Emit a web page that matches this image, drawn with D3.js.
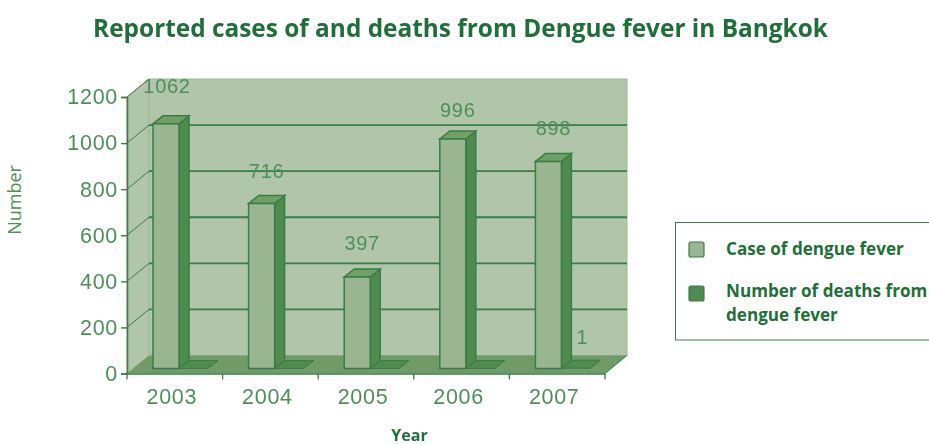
<!DOCTYPE html>
<html>
<head>
<meta charset="utf-8">
<script src="https://cdn.jsdelivr.net/npm/d3@7"></script>
<style>
  html, body { margin: 0; background: #fff; }
  svg { display: block; }
  .bold { font-family: "Open Sans", sans-serif; font-weight: 700; }
  .plain { font-family: "Liberation Sans", Arial, sans-serif; letter-spacing: 0.7px; }
</style>
</head>
<body>
<div id="chart"></div>
<script>
const years = ['2003', '2004', '2005', '2006', '2007'];
const cases = [1062, 716, 397, 996, 898];
const deaths = [0, 0, 0, 0, 1];
const yTicks = [0, 200, 400, 600, 800, 1000, 1200];
const title = 'Reported cases of and deaths from Dengue fever in Bangkok';
const legendNames = [['Case of dengue fever'], ['Number of deaths from', 'dengue fever']];

const width = 929, height = 445;
const line = '#3a7d44', wallC = '#b1c5aa', floorC = '#6f9a68';
const barFront = '#9ab592', barSide = '#4f8a50', barTop = '#6f9f68';
const textC = '#4c9058', titleC = '#1f7038';

// depth of the fake 3d box and of the bars
const depth = { x: 22, y: -18 };
const barDepth = { x: 10, y: -8 };
const barBase = 5;   // bars stand this far behind the front edge
const barW = 26;

const x = d3.scaleBand().domain(years).range([127, 605]);
const y = d3.scaleLinear().domain([0, 1200]).range([373.5, 97]);
const barX = d => x(d) + 26;

const svg = d3.select('#chart').append('svg').attr('width', width).attr('height', height);
const defs = svg.append('defs');
defs.append('filter').attr('id', 'soft').append('feGaussianBlur').attr('stdDeviation', 0.35);

const poly = pts => pts.map(p => p.join(',')).join(' ');
const chart = svg.append('g').attr('filter', 'url(#soft)');

const x0 = 127, x1 = 605, y0 = y(0), yTop = y(1200);

// walls and floor
chart.append('polygon').attr('fill', wallC).attr('stroke', '#9db896')
  .attr('points', poly([[x0 + depth.x, y0 + depth.y], [x1 + depth.x, y0 + depth.y], [x1 + depth.x, yTop + depth.y], [x0 + depth.x, yTop + depth.y]]));
chart.append('polygon').attr('fill', wallC).attr('stroke', '#9db896')
  .attr('points', poly([[x0, y0], [x0 + depth.x, y0 + depth.y], [x0 + depth.x, yTop + depth.y], [x0, yTop]]));
chart.append('polygon').attr('fill', floorC)
  .attr('points', poly([[x0, y0], [x1, y0], [x1 + depth.x, y0 + depth.y], [x0 + depth.x, y0 + depth.y]]));

// gridlines, side wall then back wall
const grid = yTicks.filter(t => t > 0);
chart.selectAll('.side').data(grid).join('line')
  .attr('x1', x0).attr('x2', x0 + depth.x)
  .attr('y1', d => y(d)).attr('y2', d => y(d) + depth.y)
  .attr('stroke', line).attr('stroke-width', 1);
chart.selectAll('.back').data(grid.filter(t => t < 1200)).join('line')
  .attr('x1', x0 + depth.x).attr('x2', x1 + depth.x)
  .attr('y1', d => y(d) + depth.y).attr('y2', d => y(d) + depth.y)
  .attr('stroke', line).attr('stroke-width', 1.8);

// bars
const base = y0 - barBase;
const h = v => y0 - y(v);

years.forEach((yr, i) => {
  const g = chart.append('g');
  const left = barX(yr), right = left + barW, v = cases[i], top = base - h(v);

  // deaths, nearly flat, sits behind and right of the cases bar
  const dv = h(deaths[i]);
  g.append('polygon').attr('fill', barSide).attr('stroke', line)
    .attr('points', poly([[right, base - dv], [right + 29, base - dv], [right + 29 + barDepth.x, base - dv + barDepth.y], [right + barDepth.x, base - dv + barDepth.y]]));

  g.append('polygon').attr('fill', barSide).attr('stroke', line).attr('stroke-width', 1.5)
    .attr('points', poly([[right, base], [right + barDepth.x, base + barDepth.y], [right + barDepth.x, top + barDepth.y], [right, top]]));
  g.append('polygon').attr('fill', barTop).attr('stroke', line).attr('stroke-width', 1.5)
    .attr('points', poly([[left, top], [right, top], [right + barDepth.x, top + barDepth.y], [left + barDepth.x, top + barDepth.y]]));
  g.append('rect').attr('x', left).attr('y', top).attr('width', barW).attr('height', h(v))
    .attr('fill', barFront).attr('stroke', line).attr('stroke-width', 1.5);
});

// axes
const yAxis = d3.axisLeft(y).tickValues(yTicks).tickSize(6).tickPadding(3).tickFormat(d3.format('d'));
const yG = chart.append('g').attr('transform', `translate(${x0},0)`).call(yAxis);
const xAxis = d3.axisBottom(x).tickSize(0).tickPadding(15);
const xG = chart.append('g').attr('transform', `translate(0,${y0})`).call(xAxis);
xG.selectAll('.tick line').remove();
xG.selectAll('.tick text').attr('dx', -3);
xG.selectAll('.edge').data(d3.range(years.length + 1)).join('line')
  .attr('x1', i => x0 + i * x.step()).attr('x2', i => x0 + i * x.step())
  .attr('y1', 0).attr('y2', 6).attr('stroke', line).attr('stroke-width', 1.3);
[yG, xG].forEach(a => {
  a.selectAll('.domain').attr('stroke', line).attr('stroke-width', 1.6);
  a.selectAll('.tick line').attr('stroke', line).attr('stroke-width', 1.4);
  a.selectAll('text').attr('class', 'plain').attr('font-size', 21.5).attr('fill', textC);
});
chart.append('line').attr('x1', x1).attr('y1', y0).attr('x2', x1 + depth.x).attr('y2', y0 + depth.y)
  .attr('stroke', line);

// value labels, the original places them a little unevenly
const labelGap = [31, 26, 27, 22, 27];
const label = (t, px, py) => chart.append('text').attr('class', 'plain').attr('x', px).attr('y', py)
  .attr('text-anchor', 'middle').attr('font-size', 20).attr('fill', textC).text(t);
years.forEach((yr, i) => {
  const top = base - h(cases[i]);
  label(cases[i], barX(yr) + (barW + barDepth.x) / 2 - (i === 0 ? 4 : 0), top - labelGap[i]);
});
label(deaths[4], barX('2007') + barW + 21, base - h(deaths[4]) - 24);

// title and axis names
svg.append('text').attr('class', 'bold').attr('x', 460.5).attr('y', 37)
  .attr('text-anchor', 'middle').attr('font-size', 24.4).attr('fill', titleC).text(title);
svg.append('text').attr('class', 'bold').attr('x', 409.5).attr('y', 441)
  .attr('text-anchor', 'middle').attr('font-size', 16).attr('fill', titleC).text('Year');
svg.append('text').attr('transform', 'translate(21,200) rotate(-90)')
  .attr('font-family', '"Open Sans", sans-serif').attr('text-anchor', 'middle')
  .attr('font-size', 18).attr('fill', textC).text('Number');

// legend
svg.append('rect').attr('x', 675.5).attr('y', 222.5).attr('width', 260).attr('height', 117.5)
  .attr('fill', '#fff').attr('stroke', line).attr('stroke-width', 1);
const swatchC = [barFront, barSide];
const swatchY = [242, 286];
const textY = [[255], [297, 321]];
legendNames.forEach((names, i) => {
  svg.append('rect').attr('x', 689).attr('y', swatchY[i]).attr('width', 15).attr('height', 15).attr('rx', 2)
    .attr('fill', swatchC[i]).attr('stroke', line).attr('stroke-width', 1.2);
  names.forEach((n, j) => svg.append('text').attr('class', 'bold').attr('x', 726).attr('y', textY[i][j])
    .attr('font-size', 17.1).attr('fill', titleC).text(n));
});
</script>
</body>
</html>
